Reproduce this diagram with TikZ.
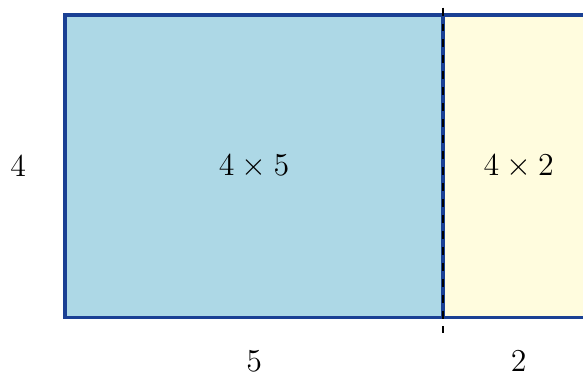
\documentclass[tikz,border=0pt]{standalone}
\usepackage{xcolor}
\usepackage{tikz}
\usepackage{amsmath}
\usetikzlibrary{positioning}
\definecolor{edgeblue}{RGB}{26, 64, 148}
\definecolor{areablue}{RGB}{173, 216, 230}
\definecolor{areayellow}{RGB}{255, 252, 222}

\begin{document}
\begin{tikzpicture}[every node/.style={align=center, outer sep=0pt, font=\large}]
  \useasboundingbox (-0.86,-0.78) rectangle (6.85,4.2);
  % Areas
  \node[draw=edgeblue, fill=areablue, line width=1.3pt, minimum width=5cm, minimum height=4cm, anchor=south west] (big) at (0,0) {$4 \times 5$};
  \node[draw=edgeblue, fill=areayellow, line width=1.3pt, minimum width=2cm, minimum height=4cm, anchor=west] (small) at (big.east) {$4 \times 2$};

  % Side lengths
  \node[left=0.4cm of big] (height) {$4$};
  \node[below=0.33cm of big] (lenbig) {$5$};
  \node[below=0.33cm of small] (lensmall) {$2$};

  % Split line
  \draw[dashed, thick] ([yshift=0.1cm]big.north east) -- ([yshift=-0.2cm]big.south east);
\end{tikzpicture}
\end{document}
